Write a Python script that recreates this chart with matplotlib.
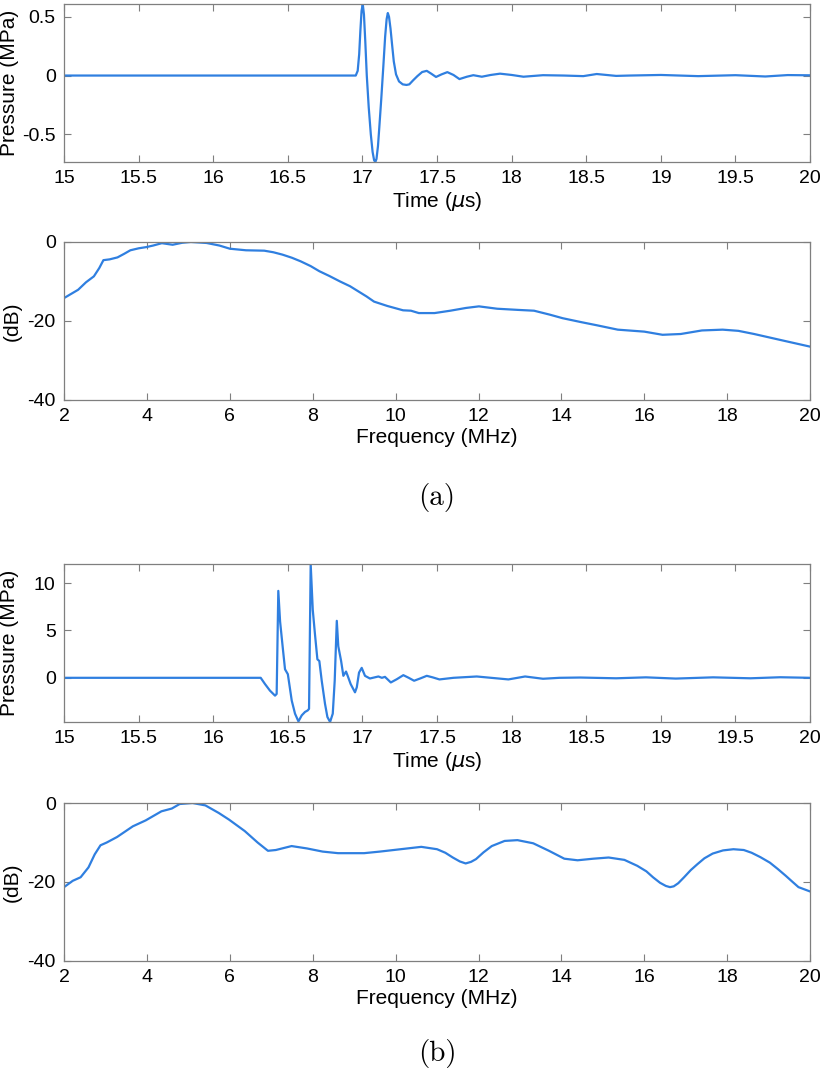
import matplotlib
matplotlib.use("Agg")
import matplotlib.pyplot as plt
import numpy as np


##############################################################################
# Data

# (a) pressure pulse, time in us, pressure in MPa
TIME_A = [15.0, 16.955, 16.968, 16.978, 16.986, 16.994, 17.002, 17.010,
          17.019, 17.029, 17.042, 17.056, 17.068, 17.078, 17.086, 17.094,
          17.104, 17.113, 17.126, 17.14, 17.152, 17.162, 17.170, 17.178,
          17.188, 17.198, 17.21, 17.225, 17.245, 17.27, 17.295, 17.314,
          17.34, 17.368, 17.40, 17.431, 17.462, 17.493, 17.53, 17.569,
          17.61, 17.65, 17.70, 17.743, 17.80, 17.86, 17.922, 18.0, 18.079,
          18.21, 18.35, 18.48, 18.57, 18.70, 18.79, 19.0, 19.25, 19.5, 19.7,
          19.85, 20.0]
PRESS_A = [0.0, 0.0, 0.04, 0.18, 0.38, 0.55, 0.608, 0.52,
           0.29, 0.0, -0.27, -0.50, -0.65, -0.72, -0.736, -0.71,
           -0.6, -0.44, -0.2, 0.08, 0.33, 0.48, 0.532, 0.5,
           0.4, 0.27, 0.12, 0.01, -0.05, -0.075, -0.08, -0.075,
           -0.04, -0.005, 0.03, 0.04, 0.015, -0.012, 0.01, 0.029,
           0.005, -0.03, -0.01, 0.003, -0.01, 0.005, 0.016, 0.005, -0.01,
           0.003, 0.0, -0.005, 0.013, -0.003, 0.0, 0.005, -0.005, 0.003,
           -0.008, 0.004, 0.002]

# (a) spectrum, frequency in MHz, level in dB
FREQ_A = [2.0, 2.34, 2.53, 2.72, 2.85, 2.95, 3.10, 3.29, 3.45, 3.6, 3.8,
          3.98, 4.15, 4.36, 4.62, 4.85, 5.06, 5.44, 5.75, 6.0, 6.39, 6.83,
          7.05, 7.27, 7.5, 7.71, 7.95, 8.16, 8.4, 8.66, 8.9, 9.1, 9.3, 9.48,
          9.8, 10.18, 10.37, 10.56, 10.94, 11.32, 11.7, 12.01, 12.45,
          12.96, 13.34, 13.72, 14.03, 14.48, 14.86, 15.36, 16.0, 16.44,
          16.88, 17.39, 17.89, 18.27, 18.65, 19.28, 20.0]
DB_A = [-14.2, -12.1, -10.2, -8.7, -6.6, -4.6, -4.4, -3.9, -3.0, -2.1, -1.6,
        -1.3, -0.9, -0.3, -0.7, -0.2, 0.0, -0.25, -0.9, -1.7, -2.1, -2.2,
        -2.6, -3.2, -4.0, -4.9, -6.1, -7.4, -8.6, -10.0, -11.2, -12.5,
        -13.8, -15.1, -16.2, -17.3, -17.4, -18.0, -18.0, -17.4, -16.7,
        -16.3, -16.9, -17.2, -17.4, -18.4, -19.3, -20.3, -21.1, -22.2,
        -22.7, -23.5, -23.3, -22.4, -22.2, -22.5, -23.3, -24.8, -26.5]

# (b) pressure pulse
TIME_B = [15.0, 16.318, 16.347, 16.38, 16.414, 16.425, 16.436, 16.448,
          16.466, 16.481, 16.5, 16.526, 16.548, 16.571, 16.593, 16.615,
          16.633, 16.642, 16.653, 16.667, 16.682, 16.698, 16.711, 16.727,
          16.749, 16.765, 16.783, 16.801, 16.814, 16.828, 16.838, 16.857,
          16.872, 16.89, 16.901, 16.921, 16.95, 16.962, 16.977, 16.995,
          17.017, 17.05, 17.107, 17.13, 17.151, 17.19, 17.23, 17.274,
          17.31, 17.346, 17.39, 17.431, 17.47, 17.516, 17.61, 17.766,
          17.978, 18.09, 18.21, 18.32, 18.46, 18.7, 18.9, 19.1, 19.35, 19.6,
          19.8, 20.0]
PRESS_B = [0.0, 0.0, -0.66, -1.35, -1.88, -1.7, 9.17, 5.94,
           3.16, 0.9, 0.38, -2.4, -3.78, -4.6, -3.96, -3.6,
           -3.44, -3.27, 12.0, 7.16, 4.55, 1.95, 1.77, -0.31,
           -2.74, -4.13, -4.66, -3.78, -0.31, 6.01, 3.33, 1.77,
           0.21, 0.66, 0.21, -0.66, -1.53, -1.0, 0.55, 1.05,
           0.21, -0.07, 0.14, 0.0, 0.1, -0.49, -0.15, 0.28,
           0.0, -0.31, -0.05, 0.21, 0.05, -0.17, 0.0, 0.14,
           -0.17, 0.14, -0.1, 0.0, 0.03, -0.05, 0.05, -0.08, 0.05, -0.05,
           0.06, 0.0]

# (b) spectrum
FREQ_B = [2.0, 2.21, 2.4, 2.59, 2.74, 2.88, 3.03, 3.28, 3.66, 3.97, 4.35,
          4.6, 4.79, 5.1, 5.41, 5.73, 5.98, 6.36, 6.67, 6.92, 7.11, 7.49,
          7.86, 8.24, 8.61, 9.24, 9.62, 10.12, 10.62, 11.0, 11.2, 11.38,
          11.55, 11.69, 11.82, 11.94, 12.12, 12.32, 12.63, 12.94, 13.32,
          13.7, 14.07, 14.39, 14.77, 15.14, 15.52, 15.83, 16.05, 16.21,
          16.38, 16.52, 16.62, 16.71, 16.82, 16.96, 17.12, 17.28, 17.45,
          17.65, 17.9, 18.15, 18.4, 18.59, 18.8, 19.03, 19.22, 19.41, 19.58,
          19.72, 20.0]
DB_B = [-21.3, -19.7, -18.8, -16.3, -13.0, -10.7, -10.0, -8.6, -5.9, -4.4,
        -2.1, -1.4, -0.25, 0.0, -0.6, -2.5, -4.2, -7.1, -10.0, -12.1, -11.9,
        -10.9, -11.5, -12.3, -12.7, -12.7, -12.3, -11.7, -11.1, -11.7,
        -12.6, -13.8, -14.8, -15.3, -14.9, -14.2, -12.5, -10.9, -9.6, -9.4,
        -10.2, -12.1, -14.1, -14.5, -14.1, -13.8, -14.4, -15.9, -17.3,
        -18.8, -20.2, -21.0, -21.3, -21.1, -20.3, -18.8, -17.0, -15.5,
        -14.0, -12.8, -12.0, -11.7, -11.9, -12.6, -13.7, -15.1, -16.7,
        -18.4, -20.0, -21.3, -22.4]

TIME_TICKS = [15, 15.5, 16, 16.5, 17, 17.5, 18, 18.5, 19, 19.5, 20]
TIME_LABELS = ["15", "15.5", "16", "16.5", "17", "17.5", "18", "18.5",
               "19", "19.5", "20"]
FREQ_TICKS = [2, 4, 6, 8, 10, 12, 14, 16, 18, 20]
DB_TICKS = [-40, -20, 0]


##############################################################################
# Style

plt.rcParams["font.family"] = ["Liberation Sans", "DejaVu Sans"]
plt.rcParams["axes.unicode_minus"] = False
LINE_COLOR = "#2f7fe0"
AXIS_COLOR = "#7f7f7f"
TICK_SIZE = 14
LABEL_SIZE = 15


def style_axes(ax):
    for sp in ax.spines.values():
        sp.set_color(AXIS_COLOR)
        sp.set_linewidth(0.9)
    ax.tick_params(direction="in", length=5, width=0.8, color=AXIS_COLOR,
                   top=True, right=True, labelsize=TICK_SIZE, pad=6,
                   labelcolor="black")


def pressure_panel(ax, t, p, yticks, ylabels):
    ax.plot(t, p, color=LINE_COLOR, lw=1.6)
    ax.set_xlim(15, 20)
    ax.set_ylim(min(p), max(p))
    ax.set_xticks(TIME_TICKS)
    ax.set_xticklabels(TIME_LABELS)
    ax.set_yticks(yticks)
    ax.set_yticklabels(ylabels)
    ax.set_xlabel(r"Time ($\mu$s)", fontsize=LABEL_SIZE, labelpad=2)
    ax.set_ylabel("Pressure (MPa)", fontsize=LABEL_SIZE)
    ax.yaxis.set_label_coords(-0.061, 0.5)
    style_axes(ax)


def spectrum_panel(ax, f, db):
    ax.plot(f, db, color=LINE_COLOR, lw=1.6)
    ax.set_xlim(2, 20)
    ax.set_ylim(-40, 0)
    ax.set_xticks(FREQ_TICKS)
    ax.set_yticks(DB_TICKS)
    ax.set_xlabel("Frequency (MHz)", fontsize=LABEL_SIZE, labelpad=2)
    ax.set_ylabel("(dB)", fontsize=LABEL_SIZE)
    ax.yaxis.set_label_coords(-0.057, 0.5)
    style_axes(ax)


##############################################################################
# Figure

fig = plt.figure(figsize=(8.21, 10.76), dpi=100)

L, W, H = 0.078, 0.9087, 0.1468
ax1 = fig.add_axes([L, 0.8494, W, H])
ax2 = fig.add_axes([L, 0.6283, W, H])
ax3 = fig.add_axes([L, 0.3290, W, H])
ax4 = fig.add_axes([L, 0.1069, W, H])

pressure_panel(ax1, TIME_A, PRESS_A, [-0.5, 0, 0.5], ["-0.5", "0", "0.5"])
spectrum_panel(ax2, FREQ_A, DB_A)
pressure_panel(ax3, TIME_B, PRESS_B, [0, 5, 10], ["0", "5", "10"])
spectrum_panel(ax4, FREQ_B, DB_B)

cx = L + W / 2
fig.text(cx, 1 - 497 / 1076, "(a)", ha="center", va="center",
         fontsize=21, family="cmr10")
fig.text(cx, 1 - 1053 / 1076, "(b)", ha="center", va="center",
         fontsize=21, family="cmr10")

fig.savefig("out.png", dpi=100)
